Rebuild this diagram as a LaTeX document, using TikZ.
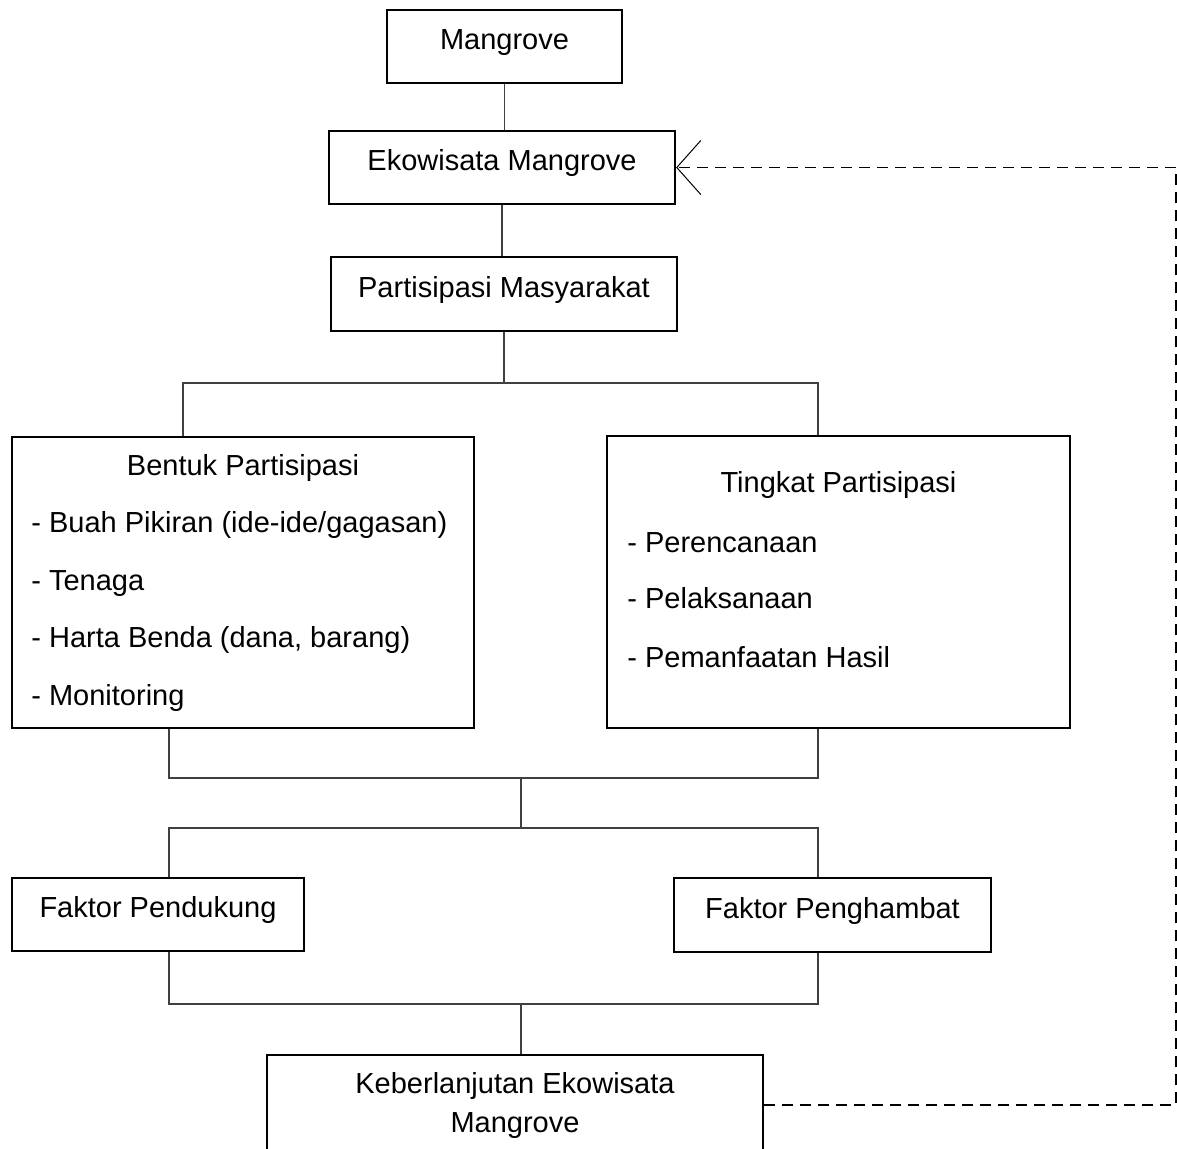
\documentclass[tikz,border=0pt]{standalone}
\usepackage{fontspec}
\setmainfont{Liberation Sans}
\usetikzlibrary{arrows.meta}
\begin{document}
\begin{tikzpicture}[x=0.5pt,y=-0.5pt,
    box/.style={draw,rectangle,line width=1.1pt,inner sep=0pt,font=\fontsize{14.5}{19.5}\selectfont,
                text height=11pt,text depth=7.6pt},
    bigbox/.style={draw,rectangle,line width=1.1pt,inner sep=0pt},
    item/.style={inner sep=0pt,font=\fontsize{14.5}{19.5}\selectfont,text height=11pt,text depth=7.6pt},
    conn/.style={draw=black!75,line width=0.65pt},
    fb/.style={draw,line width=0.75pt,dash pattern=on 5.5pt off 3.5pt}]
    \useasboundingbox (0,0) rectangle (1177,1148);
    % boxes
    \node[box,minimum width=117.5pt,minimum height=36.5pt] (mangrove) at (504.5,46.5) {Mangrove};
    \node[box,minimum width=173pt,minimum height=36.5pt] (ekowisata) at (502,167.5) {Ekowisata Mangrove};
    \node[box,minimum width=173pt,minimum height=37pt] (partisipasi) at (504,294) {Partisipasi Masyarakat};
    \node[bigbox,minimum width=231pt,minimum height=145.5pt] (bentuk) at (243,582.5) {};
    \node[bigbox,minimum width=231.5pt,minimum height=146pt] (tingkat) at (838.5,582) {};
    \node[box,minimum width=146pt,minimum height=36.5pt] (pendukung) at (158,914.5) {Faktor Pendukung};
    \node[box,minimum width=158.5pt,minimum height=37pt] (penghambat) at (832.5,915) {Faktor Penghambat};
    \node[bigbox,minimum width=248pt,minimum height=50pt,align=center,
          font=\fontsize{14.5}{19.5}\selectfont] (keber) at (515,1105) {Keberlanjutan Ekowisata\\Mangrove};
    % texts of the two big boxes
    \node[item] (bentukT) at (243,472) {Bentuk Partisipasi};
    \node[item,anchor=west] (bentuk1) at (31,529.5) {- Buah Pikiran (ide-ide/gagasan)};
    \node[item,anchor=west] (bentuk2) at (31,587) {- Tenaga};
    \node[item,anchor=west] (bentuk3) at (31,644.5) {- Harta Benda (dana, barang)};
    \node[item,anchor=west] (bentuk4) at (31,702) {- Monitoring};
    \node[item] (tingkatT) at (838.5,489.5) {Tingkat Partisipasi};
    \node[item,anchor=west] (tingkat1) at (627,549) {- Perencanaan};
    \node[item,anchor=west] (tingkat2) at (627,605.5) {- Pelaksanaan};
    \node[item,anchor=west] (tingkat3) at (627,664) {- Pemanfaatan Hasil};
    % junctions
    \coordinate (j1) at (504,383);
    \coordinate (b1) at (183,383);
    \coordinate (t1) at (818,383);
    \coordinate (b2) at (169,778);
    \coordinate (j2) at (521,778);
    \coordinate (t2) at (818,778);
    \coordinate (b3) at (169,828);
    \coordinate (j3) at (521,828);
    \coordinate (t3) at (818,828);
    \coordinate (b4) at (169,1004);
    \coordinate (j4) at (521,1004);
    \coordinate (t4) at (818,1004);
    % connectors
    \draw[conn] (mangrove.south) -- (mangrove.south |- ekowisata.north);
    \draw[conn] (ekowisata.south) -- (ekowisata.south |- partisipasi.north);
    \draw[conn] (partisipasi.south) -- (j1);
    \draw[conn] (b1 |- bentuk.north) -- (b1) -- (t1) -- (t1 |- tingkat.north);
    \draw[conn] (b2 |- bentuk.south) -- (b2) -- (t2) -- (t2 |- tingkat.south);
    \draw[conn] (j2) -- (j3);
    \draw[conn] (b3 |- pendukung.north) -- (b3) -- (t3) -- (t3 |- penghambat.north);
    \draw[conn] (b4 |- pendukung.south) -- (b4) -- (t4) -- (t4 |- penghambat.south);
    \draw[conn] (j4) -- (j4 |- keber.north);
    % feedback
    \draw[fb,-{Straight Barb[length=12pt,width=27pt,line width=0.5pt]}]
      (keber.east) -- ++(412,0) |- (ekowisata.east);
\end{tikzpicture}
\end{document}
